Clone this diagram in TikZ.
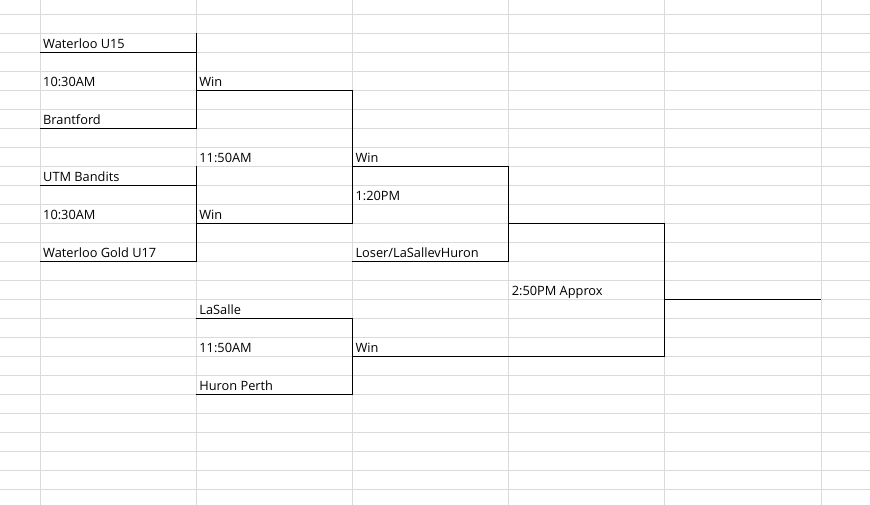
\documentclass[tikz,border=0pt]{standalone}
\usepackage{fontspec}
\setmainfont{Open Sans}
\usepackage{xcolor}
\usepackage{tikz}
\definecolor{gridgray}{RGB}{218,218,218}
\tikzset{
    cell/.style = {anchor=base west, inner sep=0pt, xshift=3pt, yshift=4pt, font=\fontsize{12.8}{15}\selectfont},
    gridline/.style = {draw=gridgray, line width=0.9pt},
    bline/.style = {draw=black, line width=1.2pt}
}

\begin{document}
\begin{tikzpicture}[x=156.2pt, y=-19pt]
    \useasboundingbox (-0.256,-0.753) rectangle (5.314,25.826);
    % sheet grid
    \foreach \c in {0,...,5}
        \draw[gridline] (\c,-0.753) -- (\c,25.826);
    \foreach \r in {0,...,25}
        \draw[gridline] (-0.256,\r) -- (5.314,\r);

    % cells
    \node[cell] (wu15) at (0,2) {Waterloo U15};
    \node[cell] (time1) at (0,4) {10:30AM};
    \node[cell] (bran) at (0,6) {Brantford};
    \node[cell] (utm) at (0,9) {UTM Bandits};
    \node[cell] (time2) at (0,11) {10:30AM};
    \node[cell] (wg17) at (0,13) {Waterloo Gold U17};
    \node[cell] (win1) at (1,4) {Win};
    \node[cell] (time3) at (1,8) {11:50AM};
    \node[cell] (win2) at (1,11) {Win};
    \node[cell] (lasa) at (1,16) {LaSalle};
    \node[cell] (time4) at (1,18) {11:50AM};
    \node[cell] (hupe) at (1,20) {Huron Perth};
    \node[cell] (win3) at (2,8) {Win};
    \node[cell] (time5) at (2,10) {1:20PM};
    \node[cell] (lose) at (2,13) {Loser/LaSallevHuron};
    \node[cell] (win4) at (2,18) {Win};
    \node[cell] (time6) at (3,15) {2:50PM Approx};

    % slot lines
    \coordinate (s1) at (0,2);
    \coordinate (s2) at (0,6);
    \coordinate (s3) at (0,9);
    \coordinate (s4) at (0,13);
    \coordinate (s5) at (1,4);
    \coordinate (s6) at (1,11);
    \coordinate (s7) at (1,16);
    \coordinate (s8) at (1,20);
    \coordinate (s9) at (2,8);
    \coordinate (s10) at (2,13);
    \coordinate (s11) at (2,18);
    \coordinate (s12) at (3,11);
    \coordinate (s13) at (4,15);
    % bracket tops
    \coordinate (k1) at (1,1);
    \coordinate (k2) at (1,8);
    \coordinate (k3) at (2,4);
    \coordinate (k4) at (2,16);
    \coordinate (k5) at (3,8);
    \coordinate (k6) at (4,11);
    \coordinate (fin) at (5,15);

    \draw[bline] (s1) -| (k1) (s2) -| (k1);
    \draw[bline] (s3) -| (k2) (s4) -| (k2);
    \draw[bline] (s5) -| (k3) (s6) -| (k3);
    \draw[bline] (s7) -| (k4) (s8) -| (k4);
    \draw[bline] (s9) -| (k5) (s10) -| (k5);
    \draw[bline] (s12) -| (k6) (s11) -| (k6);
    \draw[bline] (s13) -- (fin);
\end{tikzpicture}
\end{document}
